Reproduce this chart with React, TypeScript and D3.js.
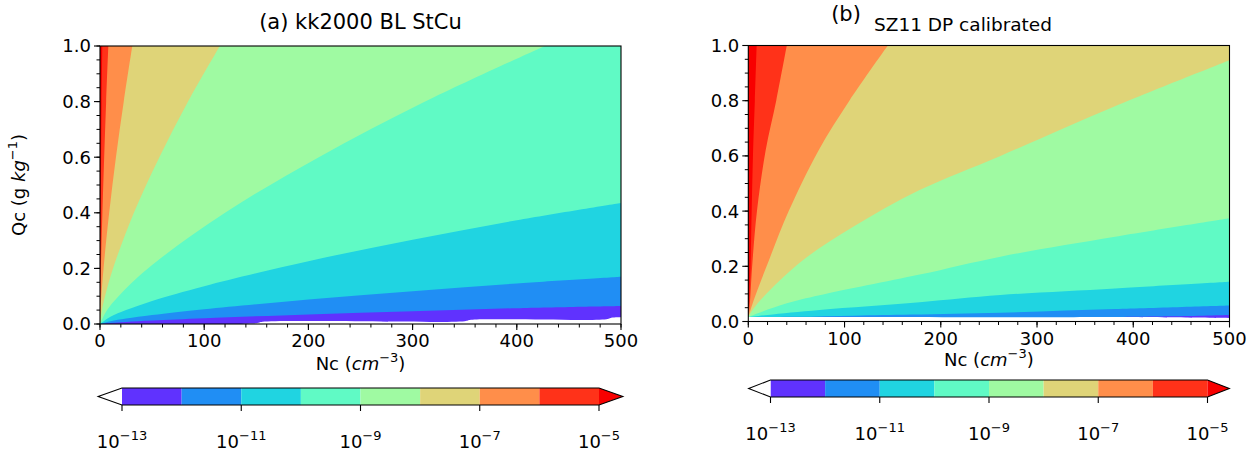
import React from "react"
import * as d3 from "d3"

const W = 1249
const H = 470
const FONT = "DejaVu Sans, sans-serif"

// contour levels of the autoconversion rate
const levels = [1e-13, 1e-12, 1e-11, 1e-10, 1e-9, 1e-8, 1e-7, 1e-6, 1e-5]
const cbTicks = [1e-13, 1e-11, 1e-9, 1e-7, 1e-5]
const cbTickExp = ["−13", "−11", "−9", "−7", "−5"]
const bandColors = ["#6032fe", "#208ef4", "#20d4e1", "#60fac5", "#9ffaa2", "#dfd478", "#ff8e4a", "#ff3219"]
const underColor = "#ffffff"
const overColor = "#f80000"

const ncTicks = [0, 100, 200, 300, 400, 500]
const qcTicks = [0, 0.2, 0.4, 0.6, 0.8, 1.0]

// level lines: [Nc, Qc] points, 1e-13 first ... 1e-5 last
const kkLines: [number, number][][] = [
  [[0, 0], [150, 0.003], [156, 0.008], [350, 0.01], [356, 0.015], [486, 0.017], [492, 0.023], [500, 0.024]],
  [[0, 0], [10, 0.004], [25, 0.0076], [50, 0.0126], [100, 0.021], [200, 0.0345], [300, 0.046], [400, 0.057], [500, 0.065]],
  [[0, 0], [10, 0.01], [25, 0.0195], [50, 0.032], [100, 0.053], [200, 0.088], [300, 0.118], [400, 0.146], [500, 0.17]],
  [[0, 0], [10, 0.026], [25, 0.05], [50, 0.083], [100, 0.136], [200, 0.226], [300, 0.303], [400, 0.373], [500, 0.435]],
  [[0, 0], [6.8, 0.05], [17.8, 0.1], [46, 0.2], [120, 0.4], [210, 0.6], [312, 0.8], [427, 1.0]],
  [[0, 0], [1.85, 0.05], [4.8, 0.1], [12.5, 0.2], [32.5, 0.4], [57, 0.6], [84.5, 0.8], [115, 1.0]],
  [[0, 0], [0.5, 0.05], [1.3, 0.1], [3.4, 0.2], [8.8, 0.4], [15.3, 0.6], [22.8, 0.8], [31, 1.0]],
  [[0, 0], [0.13, 0.05], [0.33, 0.1], [0.87, 0.2], [2.3, 0.4], [4, 0.6], [5.9, 0.8], [8, 1.0]],
  [[0, 0], [0.1, 0.1], [0.25, 0.2], [0.6, 0.4], [1.1, 0.6], [1.6, 0.8], [2.2, 1.0]],
]

// level lines
const szLines: [number, number][][] = [
  [[0, 0.016], [380, 0.016], [500, 0.012]],
  [[0, 0.016], [380, 0.0165], [440, 0.019], [500, 0.024]],
  [[0, 0.016], [50, 0.017], [110, 0.021], [170, 0.025], [262, 0.032], [381, 0.045], [500, 0.058]],
  [[0, 0.016], [20, 0.024], [74, 0.042], [178, 0.07], [262, 0.096], [381, 0.12], [500, 0.144]],
  [[0, 0.016], [10, 0.03], [40, 0.066], [74, 0.095], [178, 0.17], [262, 0.235], [381, 0.307], [500, 0.374]],
  [[0, 0.016], [5, 0.045], [20, 0.105], [57, 0.223], [109, 0.343], [178, 0.476], [262, 0.6], [381, 0.78], [500, 0.947]],
  [[0, 0.016], [3, 0.05], [8, 0.1], [19, 0.2], [42, 0.4], [73, 0.62], [105, 0.8], [145, 1.0]],
  [[0, 0.016], [1.5, 0.06], [4, 0.2], [9, 0.4], [18, 0.62], [29, 0.8], [40, 1.0]],
  [[0, 0.016], [1, 0.08], [2.3, 0.2], [3.5, 0.4], [5, 0.62], [6.8, 0.8], [8.7, 1.0]],
]

type Box = { x0: number; x1: number; y0: number; y1: number }

const Panel = ({ id, lines, box, cbBox, xLabelY, showYLabel, title }) => {
  const x = d3.scaleLinear().domain([0, 500]).range([box.x0, box.x1])
  const y = d3.scaleLinear().domain([0, 1]).range([box.y1, box.y0])
  const line = d3
    .line<[number, number]>()
    .x(d => x(d[0]))
    .y(d => y(d[1]))
    .curve(d3.curveCatmullRom.alpha(0.5))

  const regionPath = (pts: [number, number][]) => {
    let p = line(pts)
    const last = pts[pts.length - 1]
    if (last[0] >= 500) p += `L${x(500)},${y(1)}`
    p += `L${x(0)},${y(1)}Z`
    return p
  }

  const minorQc = d3.range(0, 1.0001, 0.05)
  const minorNc = d3.range(0, 501, 20)

  // colorbar
  const cb = d3.scaleLog().domain([1e-13, 1e-5]).range([cbBox.x0, cbBox.x1])
  const ext = (cbBox.x1 - cbBox.x0) * 0.05
  const cbMid = (cbBox.y0 + cbBox.y1) / 2
  const outline = `M${cbBox.x0},${cbBox.y0}L${cbBox.x1},${cbBox.y0}L${cbBox.x1 + ext},${cbMid}L${cbBox.x1},${cbBox.y1}L${cbBox.x0},${cbBox.y1}L${cbBox.x0 - ext},${cbMid}Z`

  const midX = (box.x0 + box.x1) / 2
  const midY = (box.y0 + box.y1) / 2

  return (
    <g fontFamily={FONT} fill="#000">
      <defs>
        <clipPath id={id}>
          <rect x={box.x0} y={box.y0} width={box.x1 - box.x0} height={box.y1 - box.y0} />
        </clipPath>
      </defs>
      <g clipPath={`url(#${id})`}>
        <rect x={box.x0} y={box.y0} width={box.x1 - box.x0} height={box.y1 - box.y0} fill={underColor} />
        {lines.map((pts, i) => (
          <path key={i} d={regionPath(pts)} fill={i < bandColors.length ? bandColors[i] : overColor} stroke="none" />
        ))}
      </g>
      <rect x={box.x0} y={box.y0} width={box.x1 - box.x0} height={box.y1 - box.y0} fill="none" stroke="#000" strokeWidth={1.1} />

      {minorQc.map(v => (
        <line key={"mq" + v} x1={box.x0} x2={box.x0 - 3.5} y1={y(v)} y2={y(v)} stroke="#000" strokeWidth={1} />
      ))}
      {qcTicks.map(v => (
        <g key={"q" + v}>
          <line x1={box.x0} x2={box.x0 - 6} y1={y(v)} y2={y(v)} stroke="#000" strokeWidth={1.1} />
          <text x={box.x0 - 9} y={y(v)} dy="0.36em" textAnchor="end" fontSize={18}>
            {d3.format(".1f")(v)}
          </text>
        </g>
      ))}
      {minorNc.map(v => (
        <line key={"mn" + v} x1={x(v)} x2={x(v)} y1={box.y1} y2={box.y1 + 3.5} stroke="#000" strokeWidth={1} />
      ))}
      {ncTicks.map(v => (
        <g key={"n" + v}>
          <line x1={x(v)} x2={x(v)} y1={box.y1} y2={box.y1 + 6} stroke="#000" strokeWidth={1.1} />
          <text x={x(v)} y={box.y1 + 23} textAnchor="middle" fontSize={18}>
            {v}
          </text>
        </g>
      ))}

      <text x={midX} y={xLabelY} textAnchor="middle" fontSize={18}>
        Nc (<tspan fontStyle="italic">cm</tspan>
        <tspan dy={-8} fontSize={13}>−3</tspan>
        <tspan dy={8}>)</tspan>
      </text>
      {showYLabel && (
        <text transform={`translate(19,${midY}) rotate(-90)`} textAnchor="middle" fontSize={18} dy="0.36em">
          Qc (g <tspan fontStyle="italic">kg</tspan>
          <tspan dy={-8} fontSize={13}>−1</tspan>
          <tspan dy={8}>)</tspan>
        </text>
      )}
      {title}

      {bandColors.map((c, i) => (
        <rect key={"cb" + i} x={cb(levels[i])} y={cbBox.y0} width={cb(levels[i + 1]) - cb(levels[i])} height={cbBox.y1 - cbBox.y0} fill={c} />
      ))}
      <path d={`M${cbBox.x0},${cbBox.y0}L${cbBox.x0 - ext},${cbMid}L${cbBox.x0},${cbBox.y1}Z`} fill={underColor} />
      <path d={`M${cbBox.x1},${cbBox.y0}L${cbBox.x1 + ext},${cbMid}L${cbBox.x1},${cbBox.y1}Z`} fill={overColor} />
      <path d={outline} fill="none" stroke="#000" strokeWidth={1.1} />
      {cbTicks.map((v, i) => (
        <g key={"ct" + i}>
          <line x1={cb(v)} x2={cb(v)} y1={cbBox.y1} y2={cbBox.y1 + 6} stroke="#000" strokeWidth={1.1} />
          <text x={cb(v)} y={cbBox.y1 + 43} textAnchor="middle" fontSize={18}>
            10<tspan dy={-8} fontSize={13}>{cbTickExp[i]}</tspan>
          </text>
        </g>
      ))}
    </g>
  )
}

const App = () => {
  const boxA: Box = { x0: 100, x1: 621, y0: 46, y1: 324 }
  const boxB: Box = { x0: 748.3, x1: 1229.5, y0: 45.5, y1: 321.5 }
  const cbA: Box = { x0: 122, x1: 599, y0: 388, y1: 405 }
  const cbB: Box = { x0: 770.5, x1: 1207.5, y0: 380, y1: 397 }
  return (
    <svg width={W} height={H} style={{ position: "absolute", left: 0, top: 0, background: "#fff" }}>
      <rect width={W} height={H} fill="#fff" />
      <Panel
        id="clip-a"
        lines={kkLines}
        box={boxA}
        cbBox={cbA}
        xLabelY={370}
        showYLabel={true}
        title={
          <text x={(boxA.x0 + boxA.x1) / 2} y={29} textAnchor="middle" fontSize={21} fontFamily={FONT}>
            (a) kk2000 BL StCu
          </text>
        }
      />
      <Panel
        id="clip-b"
        lines={szLines}
        box={boxB}
        cbBox={cbB}
        xLabelY={366}
        showYLabel={false}
        title={
          <g fontFamily={FONT}>
            <text x={846} y={21} textAnchor="middle" fontSize={21}>(b)</text>
            <text x={874} y={31} textAnchor="start" fontSize={18.5}>SZ11 DP calibrated</text>
          </g>
        }
      />
    </svg>
  )
}

export default App
